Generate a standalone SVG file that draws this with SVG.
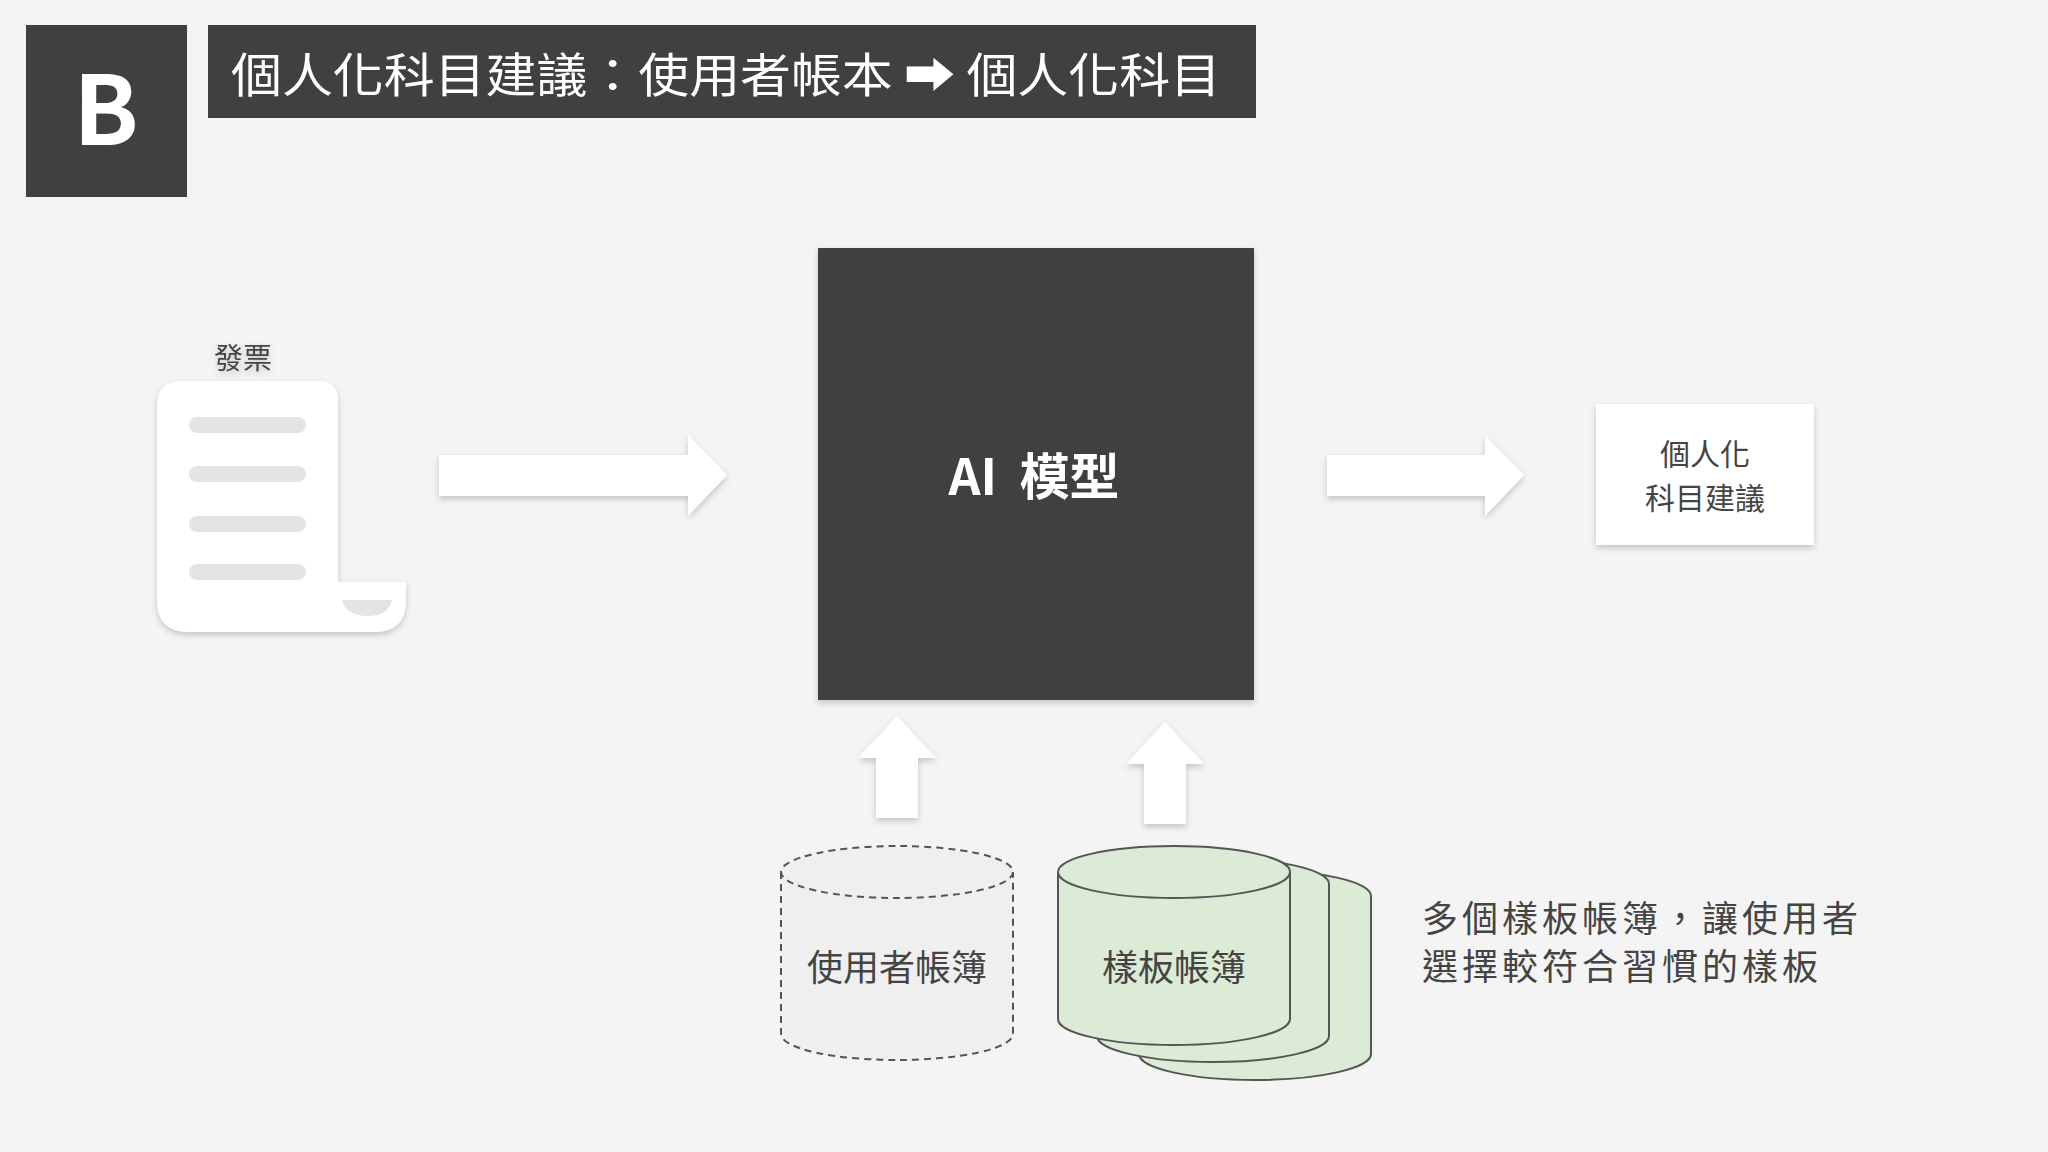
<svg xmlns="http://www.w3.org/2000/svg" width="2048" height="1152" viewBox="0 0 2048 1152">
<defs>
<filter id="sh" x="-10%" y="-10%" width="130%" height="130%"><feDropShadow dx="0" dy="3" stdDeviation="3" flood-color="#000" flood-opacity="0.2"/></filter>
<style>
text{font-family:"Noto Sans CJK TC","Noto Sans",sans-serif}
.wf{fill:#fff}
.cyl{fill:#dcebd5;stroke:#555;stroke-width:2}
.dash{fill:#efefef;stroke:#555;stroke-width:2;stroke-dasharray:7 5}
</style>
</defs>
<rect width="2048" height="1152" fill="#f4f4f4"/>
<g id="badge"><rect x="26" y="25" width="161" height="172" fill="#404040"/><text x="106" y="145" font-size="96" font-weight="bold" fill="#fff" text-anchor="middle" font-family="Liberation Sans,sans-serif">B</text></g>
<g id="title"><rect x="208" y="25" width="1048" height="93" fill="#404040"/><text x="231" y="92" font-size="47" fill="#fff" textLength="990" lengthAdjust="spacingAndGlyphs">個人化科目建議：使用者帳本 ➡ 個人化科目</text></g>
<g id="invoice" filter="url(#sh)">
<text x="243" y="369" font-size="29" fill="#444" text-anchor="middle">發票</text>
<path class="wf" d="M182 381 H318 Q338 381 338 401 V582 H406 V600 Q406 632 374 632 H189 Q157 632 157 600 V406 Q157 381 182 381 Z"/>
<path d="M342 600 H392 Q388 616 368 616 Q346 616 342 600 Z" fill="#e4e4e4"/>
<g fill="#e4e4e4"><rect x="189" y="417" width="117" height="16" rx="8"/><rect x="189" y="466" width="117" height="16" rx="8"/><rect x="189" y="516" width="117" height="16" rx="8"/><rect x="189" y="564" width="117" height="16" rx="8"/></g>
</g>
<g id="ai"><rect x="818" y="248" width="436" height="452" fill="#404040" filter="url(#sh)"/><text x="1034" y="495" font-size="50" font-weight="bold" fill="#fff" text-anchor="middle" xml:space="preserve">AI  模型</text></g>
<g id="output"><rect x="1596" y="404" width="218" height="141" fill="#fff" filter="url(#sh)"/><text x="1705" y="465" font-size="30" fill="#444" text-anchor="middle">個人化</text><text x="1705" y="509" font-size="30" fill="#444" text-anchor="middle">科目建議</text></g>
<g id="connectors" class="wf" filter="url(#sh)">
<polygon points="439,455 688,455 688,435 727,475 688,516 688,496 439,496"/>
<polygon points="1327,455 1485,455 1485,435 1524,475 1485,516 1485,496 1327,496"/>
<polygon points="876,818 876,758 858,758 897,716 936,758 918,758 918,818"/>
<polygon points="1144,824 1144,764 1126,764 1165,722 1204,764 1186,764 1186,824"/>
</g>
<g id="userdb">
<path class="dash" d="M781 872 V1034 A116 26 0 0 0 1013 1034 V872"/>
<ellipse class="dash" cx="897" cy="872" rx="116" ry="26"/>
<text x="897" y="981" font-size="36" fill="#444" text-anchor="middle">使用者帳簿</text>
</g>
<g id="templatedb">
<path class="cyl" d="M1139 896 V1054 A116 26 0 0 0 1371 1054 V896 A116 26 0 0 0 1139 896Z"/>
<path class="cyl" d="M1097 884 V1036 A116 26 0 0 0 1329 1036 V884 A116 26 0 0 0 1097 884Z"/>
<path class="cyl" d="M1058 872 V1019 A116 26 0 0 0 1290 1019 V872"/>
<ellipse class="cyl" cx="1174" cy="872" rx="116" ry="26"/>
<text x="1174" y="981" font-size="36" fill="#444" text-anchor="middle">樣板帳簿</text>
</g>
<g id="note"><text x="1422" y="932" font-size="36" fill="#444" letter-spacing="4">多個樣板帳簿，讓使用者</text><text x="1422" y="980" font-size="36" fill="#444" letter-spacing="4">選擇較符合習慣的樣板</text></g>
</svg>
